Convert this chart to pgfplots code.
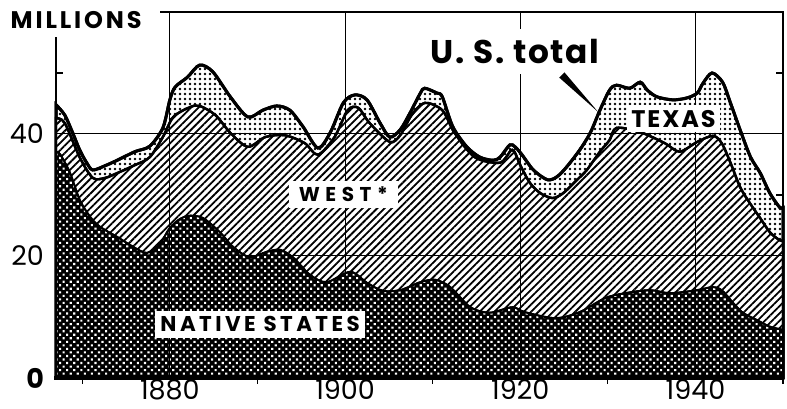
\documentclass[border=0pt]{standalone}
\usepackage{fontspec}
\setmainfont{Poppins}
\usepackage{pgfplots}
\pgfplotsset{compat=1.18}
\usetikzlibrary{patterns.meta}

\begin{document}
\begin{tikzpicture}
\begin{axis}[
 scale only axis, width=363.5pt, height=183pt,
 xmin=1867, xmax=1950, ymin=0, ymax=60,
 axis line style={draw=none},
 clip=false,
 xtick={1880,1900,1920,1940}, xticklabels={1880,1900,1920,1940},
 minor xtick={1870,1890,1910,1930,1950},
 ytick={0,20,40}, yticklabels={\textbf{0},20,40},
 minor ytick={}, minor y tick num=0,
 major tick length=0pt, minor tick length=3pt, tick align=outside,
 xtick pos=bottom, ytick pos=left,
 xmajorgrids=false, ymajorgrids=false,
 tick style={black, line width=0.6pt},
 ticklabel style={font=\fontsize{13.5}{15}\selectfont},
 xticklabel style={yshift=2.5pt},
 yticklabel style={xshift=-2.5pt},
]
% U.S. total (Texas on top)
\addplot[draw=black, line width=1.5pt, smooth, preaction={fill=white},
  pattern={Dots[distance=2.5pt,radius=0.65pt]}, pattern color=black] coordinates {
(1867.0,44.8)(1868.0,43.1)(1868.9,40.2)(1869.7,37.4)(1870.5,35.3)(1871.2,34.1)(1872.6,34.8)(1874.0,35.7)(1876.0,37.1)(1877.7,38.0)(1879.2,41.0)(1880.0,45.6)(1880.6,47.7)(1882.0,49.3)(1883.4,51.3)(1884.9,50.2)(1886.9,46.1)(1888.9,42.8)(1890.6,43.9)(1892.2,44.6)(1893.7,43.9)(1895.2,41.2)(1896.9,37.7)(1898.3,40.2)(1899.8,45.1)(1901.1,46.4)(1902.5,45.6)(1904.0,41.8)(1905.1,39.5)(1906.3,40.7)(1907.4,43.4)(1908.6,46.7)(1909.1,47.5)(1910.5,46.7)(1911.1,46.1)(1912.3,41.2)(1913.9,37.9)(1915.4,36.2)(1916.9,35.7)(1917.7,36.2)(1918.8,38.2)(1919.4,37.9)(1920.2,36.6)(1921.5,34.1)(1923.1,32.5)(1924.2,33.0)(1925.3,34.6)(1926.8,37.4)(1928.0,40.2)(1929.1,43.9)(1930.2,47.2)(1931.0,48.0)(1932.5,47.5)(1933.7,48.5)(1934.5,47.2)(1935.6,46.1)(1937.4,45.6)(1939.0,45.9)(1940.2,46.7)(1940.9,48.4)(1941.9,50.0)(1943.1,48.5)(1944.0,45.1)(1945.2,40.3)(1946.3,36.2)(1947.4,33.6)(1948.5,30.3)(1949.6,28.0)(1950.0,27.9)
} \closedcycle;
% West + native
\addplot[draw=black, line width=1.2pt, smooth, preaction={fill=white},
  pattern={Lines[angle=45,distance=2.6pt,line width=0.9pt]}, pattern color=black] coordinates {
(1867.0,42.6)(1868.0,41.8)(1869.7,36.2)(1871.2,32.8)(1872.6,32.8)(1874.0,33.6)(1876.0,34.9)(1877.7,36.2)(1879.2,39.5)(1880.4,42.8)(1882.3,44.4)(1883.4,44.6)(1885.2,43.1)(1886.9,40.2)(1888.9,37.9)(1890.9,39.5)(1893.1,39.8)(1895.4,38.5)(1896.9,36.6)(1898.8,39.5)(1900.3,43.9)(1901.5,44.3)(1902.8,41.8)(1905.1,38.7)(1906.3,39.8)(1907.6,43.1)(1909.1,45.1)(1911.1,43.9)(1912.5,40.2)(1914.8,36.2)(1917.7,35.3)(1919.1,37.4)(1920.0,34.9)(1921.1,32.0)(1922.3,30.3)(1923.7,29.5)(1924.9,30.3)(1926.5,32.5)(1927.6,34.1)(1929.1,37.1)(1930.2,39.0)(1931.0,41.0)(1933.7,40.3)(1936.5,38.5)(1938.2,37.1)(1940.2,38.7)(1942.0,39.7)(1943.0,38.5)(1944.0,35.3)(1945.1,31.3)(1946.2,28.7)(1947.4,26.2)(1948.5,23.9)(1949.6,22.6)(1950.0,22.5)
} \closedcycle;
% Native states
\addplot[draw=black, line width=1.0pt, smooth, preaction={fill=black},
  pattern={Dots[distance=2.5pt,angle=45,radius=0.75pt]}, pattern color=white] coordinates {
(1867.0,37.1)(1867.5,36.6)(1868.6,33.6)(1869.7,29.2)(1870.9,26.4)(1872.0,24.8)(1874.0,23.1)(1875.8,21.5)(1877.4,20.5)(1878.9,22.1)(1880.0,24.6)(1881.2,26.1)(1882.3,26.6)(1883.8,26.2)(1885.7,23.9)(1887.2,21.5)(1889.1,19.8)(1891.1,20.7)(1892.6,21.0)(1894.1,19.7)(1896.0,16.9)(1897.9,15.7)(1900.6,17.4)(1902.5,15.6)(1904.3,14.3)(1906.3,14.4)(1908.6,15.7)(1910.3,16.1)(1912.0,14.9)(1914.3,11.6)(1916.5,10.7)(1919.1,11.6)(1920.5,10.8)(1924.0,9.8)(1926.8,10.8)(1929.7,13.1)(1932.0,13.9)(1934.8,14.4)(1937.1,13.9)(1940.2,14.4)(1942.0,14.9)(1943.0,14.4)(1944.3,12.3)(1945.4,10.7)(1947.0,9.5)(1948.5,8.4)(1950.0,7.9)
} \closedcycle;
% grid
\draw[line width=0.5pt] (axis cs:1867,20) -- (axis cs:1950,20);
\draw[line width=0.5pt] (axis cs:1867,40) -- (axis cs:1950,40);
\draw[line width=0.5pt] (axis cs:1880,0) -- (axis cs:1880,60);
\draw[line width=0.5pt] (axis cs:1900,0) -- (axis cs:1900,60);
\draw[line width=0.5pt] (axis cs:1920,0) -- (axis cs:1920,60);
\draw[line width=0.5pt] (axis cs:1940,0) -- (axis cs:1940,60);
% frame pieces
\draw[line width=0.6pt] (axis cs:1867,0) -- (axis cs:1867,55.9);
\draw[line width=0.6pt] (axis cs:1878.9,60) -- (axis cs:1950,60) -- (axis cs:1950,0);
\draw[line width=1.6pt] (axis cs:1866.8,0) -- (axis cs:1950,0);
\draw[line width=0.6pt] (axis cs:1867,50) -- (axis cs:1867.8,50);
\draw[line width=0.6pt] (axis cs:1950,50) -- (axis cs:1949.2,50);
\draw[line width=0.6pt] (axis cs:1950,30) -- (axis cs:1949.2,30);
\coordinate (tx) at (axis cs:1937.5,42.5);
\coordinate (wst) at (axis cs:1899.8,30.1);
\coordinate (nat) at (axis cs:1890.3,8.8);
\coordinate (ust) at (axis cs:1919.4,53.5);
\coordinate (mil) at (axis cs:1869.3,58.6);
\coordinate (wa) at (axis cs:1925.05,50.1);
\coordinate (wb) at (axis cs:1924.45,49.25);
\coordinate (wc) at (axis cs:1928.9,43.6);
\coordinate (LL) at (axis cs:1867,0);
\coordinate (UR) at (axis cs:1950,60);
\end{axis}
\node[fill=white, inner xsep=2pt, inner ysep=2.5pt, font=\bfseries\fontsize{12}{14}\selectfont\addfontfeature{LetterSpace=8}] at (tx) {TEXAS};
\node[fill=white, inner xsep=5pt, inner ysep=3pt, font=\bfseries\fontsize{10}{12}\selectfont\addfontfeature{LetterSpace=28}] at (wst) {WEST*};
\node[fill=white, inner xsep=2.5pt, inner ysep=3pt, font=\bfseries\fontsize{10.7}{12}\selectfont\addfontfeature{LetterSpace=16}] at (nat) {NATIVE STATES};
\node[fill=white, inner xsep=3pt, inner ysep=5pt, font=\bfseries\fontsize{16.4}{18}\selectfont\addfontfeature{LetterSpace=5}] at (ust) {U. S. total};
\node[font=\bfseries\fontsize{12}{14}\selectfont\addfontfeature{LetterSpace=12}] at (mil) {MILLIONS};
\fill (wa) -- (wb) -- (wc) -- cycle;
\pgfresetboundingbox
\path[use as bounding box] ([xshift=-28pt,yshift=-15.5pt]LL) rectangle ([xshift=2pt,yshift=6pt]UR);
\end{tikzpicture}
\end{document}
